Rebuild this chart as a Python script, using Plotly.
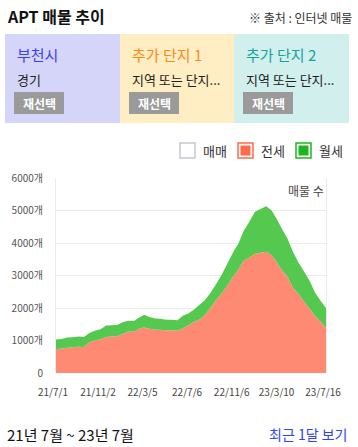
import plotly.graph_objects as go

# ---------------- data ----------------
dates = [
    "2021-07-01", "2021-07-16", "2021-08-01", "2021-08-16", "2021-09-01", "2021-09-16",
    "2021-10-01", "2021-10-16", "2021-11-01", "2021-11-16", "2021-12-01", "2021-12-16",
    "2022-01-01", "2022-01-16", "2022-02-01", "2022-02-16", "2022-03-01", "2022-03-16",
    "2022-04-01", "2022-04-16", "2022-05-01", "2022-05-16", "2022-06-01", "2022-06-16",
    "2022-07-01", "2022-07-16", "2022-08-01", "2022-08-16", "2022-09-01", "2022-09-16",
    "2022-10-01", "2022-10-16", "2022-11-01", "2022-11-16", "2022-12-01", "2022-12-16",
    "2023-01-01", "2023-01-16", "2023-02-01", "2023-02-16", "2023-03-01", "2023-03-16",
    "2023-04-01", "2023-04-16", "2023-05-01", "2023-05-16", "2023-06-01", "2023-06-16",
    "2023-07-01", "2023-07-16",
]
jeonse = [
    740, 750, 775, 790, 805, 800, 950, 1000, 1040, 1110, 1120, 1130,
    1200, 1280, 1270, 1370, 1400, 1360, 1330, 1330, 1310, 1315, 1300, 1380,
    1470, 1570, 1650, 1780, 2020, 2250, 2450, 2680, 2960, 3180, 3460, 3550,
    3670, 3700, 3730, 3620, 3430, 3170, 2960, 2620, 2440, 2200, 1980, 1750,
    1590, 1380,
]
wolse = [
    290, 300, 315, 310, 315, 310, 280, 300, 310, 350, 350, 350,
    360, 330, 330, 340, 390, 360, 350, 340, 330, 325, 320, 380,
    360, 380, 450, 470, 460, 490, 570, 670, 740, 800, 920, 1100,
    1290, 1350, 1400, 1380, 1330, 1280, 1170, 1100, 960, 930, 850, 720,
    630, 620,
]
ytick_vals = [0, 1000, 2000, 3000, 4000, 5000, 6000]
ytick_text = ["0", "1000개", "2000개", "3000개", "4000개", "5000개", "6000개"]
xtick_dates = ["2021-07-01", "2021-11-02", "2022-03-05", "2022-07-06",
               "2022-11-06", "2023-03-10", "2023-07-16"]
xtick_text = ["21/7/1", "21/11/2", "22/3/5", "22/7/6", "22/11/6", "23/3/10", "23/7/16"]
legend_names = ["매매", "전세", "월세"]

# ---------------- layout helpers ----------------
W, H = 358, 447
L, R, T, B = 56, 326, 178, 373
FONT = "Noto Sans CJK KR, Noto Sans, sans-serif"


def px(x):
    return (x - L) / (R - L)


def py(y):
    return (B - y) / (B - T)


fig = go.Figure()
fig.add_trace(go.Scatter(x=dates, y=jeonse, name="전세", stackgroup="one", mode="none",
                         fillcolor="#ff8a73", showlegend=False, hoverinfo="skip"))
fig.add_trace(go.Scatter(x=dates, y=wolse, name="월세", stackgroup="one", mode="none",
                         fillcolor="#55c84f", showlegend=False, hoverinfo="skip"))

shapes = []
annotations = []


def rect(x0, y0, x1, y1, fill, line=None, lw=0):
    shapes.append(dict(type="rect", xref="paper", yref="paper",
                       x0=px(x0), x1=px(x1), y0=py(y1), y1=py(y0),
                       fillcolor=fill, line=dict(width=lw, color=line or fill),
                       layer="above"))


def text(x, y, s, size, color, anchor="left", bold=False):
    annotations.append(dict(xref="paper", yref="paper", x=px(x), y=py(y),
                            text=("<b>%s</b>" % s) if bold else s, showarrow=False,
                            xanchor=anchor, yanchor="middle",
                            font=dict(family=FONT, size=size, color=color)))


# header
text(5, 16, "APT 매물 추이", 16, "#111111", bold=True)
text(354, 17, "※ 출처 : 인터넷 매물", 12, "#333333", anchor="right")

# selector boxes
boxes = [(5, 120, "#d5d5f9", "부천시", "#3f3ff2", "경기"),
         (120, 234, "#ffedc3", "추가 단지 1", "#ff8a14", "지역 또는 단지..."),
         (234, 349, "#d0efed", "추가 단지 2", "#16a3a0", "지역 또는 단지...")]
for x0, x1, bg, title, tcol, sub in boxes:
    rect(x0, 34, x1, 123, bg)
    text(x0 + 10, 54, title, 15, tcol)
    text(x0 + 10, 79, sub, 13, "#222222")
    rect(x0 + 9, 92, x0 + 59, 114, "#9a9a9a")
    text(x0 + 34, 103, "재선택", 12, "#ffffff", anchor="center", bold=True)

# legend
leg = [(180, "#ffffff", "#c4c8d0", 201), (238, "#ff6a4a", "#ff6a4a", 259),
       (296, "#1fb51f", "#1fb51f", 317)]
for (lx, fill, border, tx), name in zip(leg, legend_names):
    rect(lx, 143, lx + 15, 158, "#ffffff", border, 1.5)
    if fill != "#ffffff":
        rect(lx + 2.5, 145.5, lx + 12.5, 155.5, fill)
    text(tx, 150.5, name, 13, "#333333")

# inner label
text(326, 190, "매물 수", 12, "#444444", anchor="right")

# footer
text(5, 434, "21년 7월 ~ 23년 7월", 15, "#111111")
text(349, 434, "최근 1달 보기", 14, "#2f45f0", anchor="right")

fig.update_layout(
    width=W, height=H,
    margin=dict(l=L, r=W - R, t=T, b=H - B, pad=0),
    paper_bgcolor="#ffffff", plot_bgcolor="#ffffff",
    font=dict(family=FONT),
    showlegend=False,
    shapes=shapes, annotations=annotations,
    xaxis=dict(type="date", range=["2021-07-01", "2023-07-16"],
               tickvals=xtick_dates, ticktext=xtick_text,
               tickfont=dict(family=FONT, size=10, color="#444444"),
               showgrid=False, zeroline=False, showline=False,
               ticklabelshift=-3, ticklabelstandoff=12, fixedrange=True),
    yaxis=dict(range=[0, 6000], tickvals=ytick_vals, ticktext=ytick_text,
               tickfont=dict(family=FONT, size=10, color="#555555"),
               showgrid=True, gridcolor="#ebebeb", gridwidth=1,
               zeroline=False, showline=True, mirror=True,
               linecolor="#ebebeb", linewidth=1,
               ticklabelstandoff=10, fixedrange=True),
)

fig.write_html("out.html", config={"displayModeBar": False},
               post_script="document.body.style.margin='0';")
